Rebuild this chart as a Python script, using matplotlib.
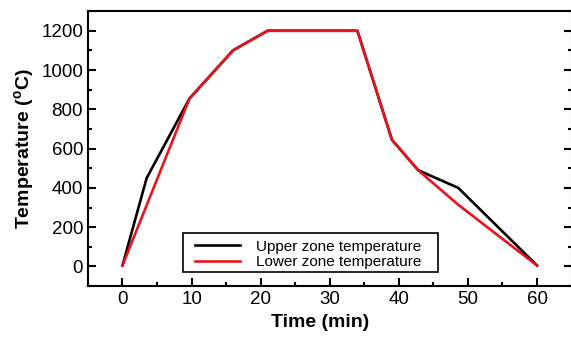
import matplotlib
matplotlib.use('Agg')
import matplotlib.pyplot as plt
from matplotlib.patches import Rectangle
from matplotlib.ticker import MultipleLocator

plt.rcParams['font.family'] = ['Liberation Sans', 'DejaVu Sans']
plt.rcParams['mathtext.fontset'] = 'custom'
plt.rcParams['mathtext.rm'] = 'Liberation Sans'
plt.rcParams['mathtext.bf'] = 'Liberation Sans:bold'

# Upper zone (black) profile
upper_time = [0, 3.5, 9.7, 16, 21, 34, 39, 42.8, 48.6, 60]
upper_temp = [5, 450, 855, 1100, 1200, 1200, 645, 490, 400, 5]

# Lower zone (red) profile
lower_time = [0, 9.7, 16, 21, 34, 39, 42.8, 48.6, 60]
lower_temp = [5, 855, 1100, 1200, 1200, 645, 490, 314, 5]

fig = plt.figure(figsize=(5.71, 3.37), dpi=100)
ax = fig.add_axes([0.154, 0.151, 0.847, 0.816])

ax.plot(upper_time, upper_temp, color='black', lw=1.9, label='Upper zone temperature')
ax.plot(lower_time, lower_temp, color='#e8141b', lw=1.9, label='Lower zone temperature')

ax.set_xlim(-5, 65)
ax.set_ylim(-100, 1300)
ax.xaxis.set_major_locator(MultipleLocator(10))
ax.xaxis.set_minor_locator(MultipleLocator(5))
ax.yaxis.set_major_locator(MultipleLocator(200))
ax.yaxis.set_minor_locator(MultipleLocator(100))
ax.tick_params(which='both', direction='in', right=True, top=False, width=1.5, labelsize=13.5)
ax.tick_params(which='major', length=5.5)
ax.tick_params(which='minor', length=3)
for s in ax.spines.values():
    s.set_linewidth(1.5)

ax.set_xlabel('Time (min)', fontsize=14, fontweight='bold')
ax.set_ylabel(r'Temperature ($\mathbf{^o}$C)', fontsize=14, fontweight='bold')
ax.xaxis.set_label_coords(0.48, -0.103)
ax.yaxis.set_label_coords(-0.107, 0.5)

# legend without its own frame, boxed by a separate rectangle
leg = ax.legend(loc='lower left', bbox_to_anchor=(0.222, 0.062), borderaxespad=0,
                fontsize=11, frameon=False, handlelength=2.9, borderpad=0,
                labelspacing=0.1, handletextpad=1.1)
ax.add_patch(Rectangle((0.197, 0.051), 0.527, 0.142, transform=ax.transAxes,
                       fill=False, edgecolor='black', lw=1.2, zorder=5))

fig.savefig('out.png', dpi=100)
